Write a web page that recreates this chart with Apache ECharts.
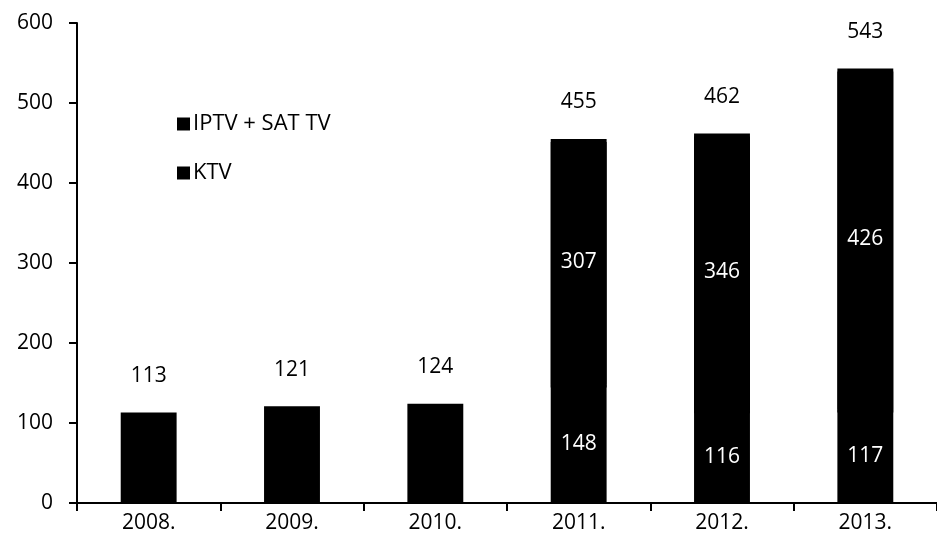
<!DOCTYPE html>
<html>
<head>
<meta charset="utf-8">
<script src="https://cdn.jsdelivr.net/npm/echarts@6/dist/echarts.min.js"></script>
<style>
  html, body { margin: 0; padding: 0; background: #fff; }
  #chart-panel { width: 937px; height: 548px; }
</style>
</head>
<body>
<div id="chart-panel"></div>
<script>
// categories and values
var years = ['2008.', '2009.', '2010.', '2011.', '2012.', '2013.'];
var ktv = [113, 121, 124, 148, 116, 117];
var iptvSat = [null, null, null, 307, 346, 426];
var totals = [113, 121, 124, 455, 462, 543];

var font = 'Open Sans';

var chartOption = {
    backgroundColor: '#fff',
    animation: false,
    textStyle: { fontFamily: font },
    legend: {
        orient: 'vertical',
        left: 172,
        top: 108,
        itemGap: 27,
        itemWidth: 13,
        itemHeight: 13,
        icon: 'rect',
        data: ['IPTV + SAT TV', 'KTV'],
        textStyle: { fontFamily: font, fontSize: 22, color: '#000', padding: [0, 0, 0, -2] }
    },
    grid: {
        left: 77,
        top: 23,
        width: 873,
        height: 480,
        containLabel: false
    },
    xAxis: {
        type: 'category',
        data: years,
        axisLine: { lineStyle: { color: '#000', width: 2 } },
        axisTick: { show: true, length: 8, lineStyle: { color: '#000', width: 2 } },
        axisLabel: { color: '#000', fontSize: 21, margin: 10, fontFamily: font }
    },
    yAxis: {
        type: 'value',
        min: 0,
        max: 600,
        interval: 100,
        axisLine: { show: true, lineStyle: { color: '#000', width: 2 } },
        axisTick: { show: true, length: 8, lineStyle: { color: '#000', width: 2 } },
        splitLine: { show: false },
        axisLabel: { color: '#000', fontSize: 21, margin: 24, fontFamily: font }
    },
    series: [{
        name: 'KTV',
        type: 'bar',
        stack: 'total',
        barWidth: '39%',
        itemStyle: { color: '#000' },
        label: {
            show: true,
            position: 'inside',
            color: '#fff',
            fontSize: 21,
            fontFamily: font,
            formatter: function (p) {
                // only the stacked years show a label inside the lower block
                return iptvSat[p.dataIndex] == null ? '' : p.value;
            }
        },
        data: ktv
    }, {
        name: 'IPTV + SAT TV',
        type: 'bar',
        stack: 'total',
        // shadow pushed down a little hides the hairline seam between blocks
        itemStyle: { color: '#000', shadowColor: '#000', shadowBlur: 0, shadowOffsetY: 3 },
        label: {
            show: true,
            position: 'inside',
            color: '#fff',
            fontSize: 21,
            fontFamily: font
        },
        data: iptvSat
    }, {
        name: 'total',
        type: 'scatter',
        symbol: 'circle',
        symbolSize: 0,
        silent: true,
        itemStyle: { color: '#000', opacity: 1 },
        label: {
            show: true,
            position: 'top',
            distance: 26,
            color: '#000',
            fontSize: 21,
            fontFamily: font
        },
        data: totals
    }]
};

var chartPanel = document.getElementById('chart-panel');
var myChart = echarts.init(chartPanel);
myChart.setOption(chartOption);
</script>
</body>
</html>
